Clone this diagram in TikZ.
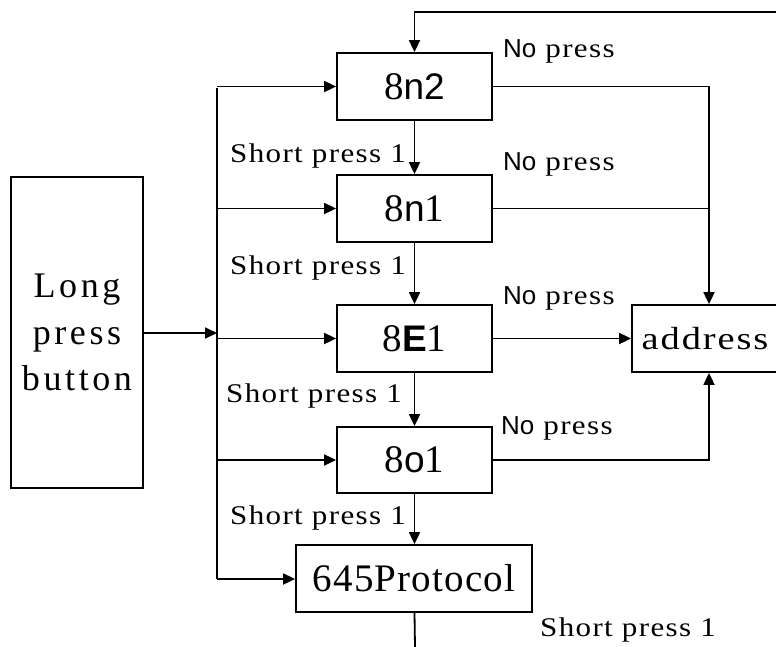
\documentclass[tikz,border=0pt]{standalone}
\usepackage{fontspec}
\setmainfont{Liberation Serif}
\newfontfamily\snf{Liberation Sans}
\newfontfamily\lblf[FakeStretch=1.15,LetterSpace=5]{Liberation Serif}
\newfontfamily\adrf[FakeStretch=1.2,LetterSpace=6]{Liberation Serif}
\newfontfamily\longf[LetterSpace=10]{Liberation Serif}
\newfontfamily\digf[LetterSpace=3]{Liberation Serif}
\usetikzlibrary{arrows.meta}
\tikzset{
  box/.style={draw, line width=1.8pt, inner sep=0pt},
  digits/.style={font=\fontsize{39}{44}\selectfont\digf},
  arr/.style={line width=1.8pt, -{Triangle[length=12pt,width=11pt]}},
  ln/.style={line width=1.8pt},
  lab/.style={anchor=base west, inner sep=0pt, font=\fontsize{27}{28}\selectfont\lblf}
}
\newcommand{\snp}[1]{{\fontsize{37}{40}\selectfont\snf #1}}
\newcommand{\nop}{{\fontsize{26}{28}\selectfont\snf No}\hspace{9pt}press}
\begin{document}
\begin{tikzpicture}[x=1pt,y=-1pt]
\useasboundingbox (0,0) rectangle (776,646);
% boxes
\node[box, minimum width=132pt, minimum height=311pt, align=center,
      font=\fontsize{36}{46.5}\selectfont\longf] (long) at (77,332.5) {Long\\press\\button};
\node[box, digits, minimum width=155pt, minimum height=67pt] (n2) at (414.5,86.5) {8\snp{n2}};
\node[box, digits, minimum width=155pt, minimum height=67pt] (n1) at (414.5,208.5) {8\snp{n}1};
\node[box, digits, minimum width=155pt, minimum height=67pt] (e1) at (414.5,338.5) {8\snp{\bfseries E}1};
\node[box, digits, minimum width=155pt, minimum height=66pt] (o1) at (414.5,460) {8\snp{o}1};
\node[box, digits, minimum width=236pt, minimum height=67pt] (prot) at (414,578.5) {645Protocol};
\node[box, minimum width=146pt, minimum height=67pt,
      font=\fontsize{32}{34}\selectfont\adrf] (addr) at (705,338.5) {address};
% helper coordinates
\coordinate (bus) at (217,0);
\coordinate (busTop) at (217,88);
\coordinate (busBot) at (217,579);
\coordinate (rx) at (709,0);
\coordinate (topR) at (777,12);
\coordinate (botEnd) at (415,647);
% connectors
\draw[ln] (busTop) -- (busBot);
\draw[arr] (long.east |- 0,333) -- (bus |- 0,333);
\draw[arr] (bus |- n2.west) -- (n2.west);
\draw[arr] (bus |- n1.west) -- (n1.west);
\draw[arr] (bus |- e1.west) -- (e1.west);
\draw[arr] (bus |- o1.west) -- (o1.west);
\draw[arr] (busBot) -- (busBot -| prot.west);
\draw[arr] (topR) -| (n2.north);
\draw[arr] (n2.south) -- (n1.north);
\draw[arr] (n1.south) -- (e1.north);
\draw[arr] (e1.south) -- (o1.north);
\draw[arr] (o1.south) -- (o1.south |- prot.north);
\draw[ln] (prot.south -| o1.south) -- (botEnd);
\draw[arr] (n2.east) -| (rx |- addr.north);
\draw[ln] (n1.east) -- (rx |- n1.east);
\draw[arr] (e1.east) -- (addr.west);
\draw[arr] (o1.east) -| (rx |- addr.south);
% labels
\node[lab] (np1) at (503,57) {\nop};
\node[lab] (np2) at (503,170) {\nop};
\node[lab] (np3) at (503,304) {\nop};
\node[lab] (np4) at (501,434) {\nop};
\node[lab] (sp1) at (230,162) {Short press 1};
\node[lab] (sp2) at (230,274) {Short press 1};
\node[lab] (sp3) at (226,402) {Short press 1};
\node[lab] (sp4) at (230,524) {Short press 1};
\node[lab] (sp5) at (540,636) {Short press 1};
\end{tikzpicture}
\end{document}
